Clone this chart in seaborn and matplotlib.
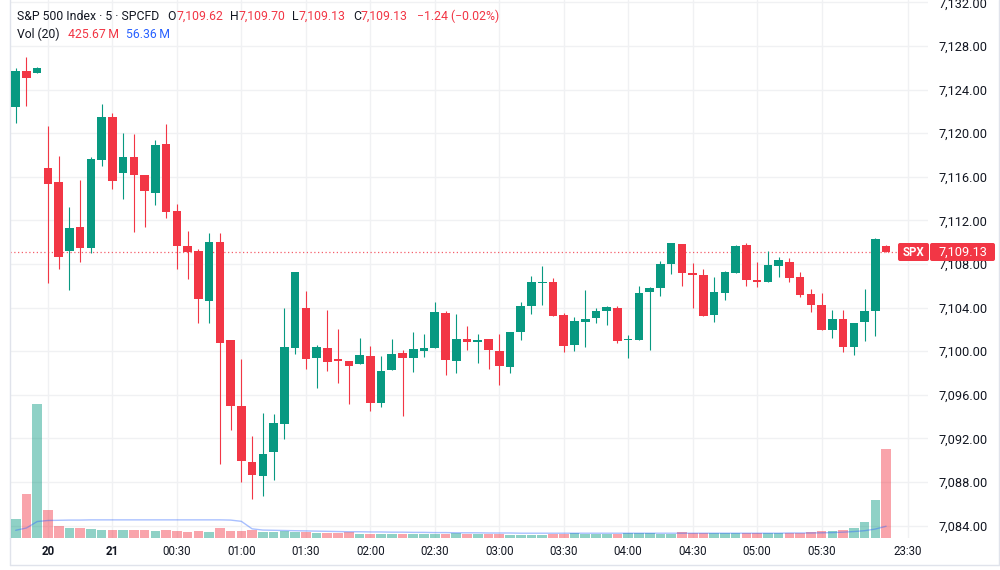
import numpy as np
import pandas as pd
import matplotlib
matplotlib.use("Agg")
import matplotlib.pyplot as plt
import matplotlib.transforms as mtransforms
from matplotlib.patches import FancyBboxPatch
from matplotlib.lines import Line2D
import seaborn as sns

# ── DATA (5 min SPX candles) ──────────────────────────────────────────────────
opens = [7122.38, 7125.73, 7125.55, 7116.78, 7115.52, 7109.19, 7111.42, 7109.47, 7117.54, 7121.51,
         7116.38, 7117.84, 7116.19, 7114.49, 7118.98, 7112.89, 7109.62, 7109.19, 7104.63, 7110.05,
         7101.03, 7094.94, 7089.86, 7088.58, 7090.72, 7093.32, 7100.27, 7103.96, 7099.40, 7100.27,
         7099.26, 7099.07, 7098.80, 7099.59, 7095.28, 7098.28, 7099.81, 7099.40, 7100.05, 7100.32,
         7103.50, 7099.10, 7101.09, 7100.82, 7101.09, 7100.05, 7098.58, 7101.76, 7104.15, 7106.26,
         7106.32, 7103.32, 7100.57, 7102.71, 7103.05, 7103.66, 7103.99, 7101.00, 7101.06, 7105.43,
         7105.80, 7108.00, 7109.86, 7107.15, 7106.99, 7103.29, 7105.37, 7107.15, 7109.74, 7106.56,
         7106.32, 7107.84, 7108.16, 7106.78, 7105.25, 7104.27, 7101.92, 7102.98, 7100.39, 7102.65,
         7103.69, 7109.62]
highs = [7125.95, 7127.02, 7126.10, 7120.66, 7117.90, 7113.20, 7115.70, 7117.79, 7122.65, 7121.83,
         7119.99, 7119.90, 7116.19, 7119.38, 7120.84, 7113.50, 7111.00, 7109.38, 7110.82, 7110.82,
         7101.03, 7099.31, 7092.22, 7094.33, 7094.24, 7103.94, 7107.29, 7105.52, 7100.57, 7103.78,
         7102.00, 7099.07, 7101.18, 7100.48, 7099.56, 7101.09, 7100.11, 7101.79, 7101.58, 7104.54,
         7103.69, 7103.44, 7102.31, 7101.58, 7101.09, 7101.58, 7101.76, 7104.49, 7106.93, 7107.79,
         7106.69, 7103.48, 7103.11, 7105.59, 7103.99, 7104.17, 7104.15, 7101.49, 7105.95, 7105.92,
         7108.25, 7109.93, 7109.86, 7108.06, 7107.51, 7106.78, 7107.39, 7109.74, 7109.95, 7108.16,
         7109.19, 7108.61, 7108.55, 7107.24, 7105.68, 7105.34, 7103.75, 7103.75, 7102.56, 7105.71,
         7110.36, 7109.70]
lows = [7120.91, 7122.52, 7125.50, 7106.28, 7107.51, 7105.60, 7108.18, 7108.98, 7116.99, 7114.91,
        7113.99, 7110.96, 7111.37, 7113.44, 7112.19, 7107.51, 7106.62, 7102.56, 7102.61, 7089.62,
        7092.77, 7088.03, 7086.41, 7086.72, 7088.18, 7091.92, 7099.72, 7098.39, 7096.62, 7098.21,
        7097.06, 7095.16, 7098.80, 7094.54, 7094.91, 7098.28, 7094.08, 7098.12, 7099.44, 7100.32,
        7097.84, 7098.03, 7100.11, 7098.89, 7098.34, 7096.87, 7097.97, 7101.03, 7103.39, 7104.24,
        7103.23, 7099.95, 7100.02, 7100.41, 7102.56, 7102.40, 7100.72, 7099.35, 7101.06, 7100.14,
        7105.04, 7107.08, 7105.98, 7103.99, 7103.23, 7102.71, 7104.70, 7107.15, 7106.01, 7105.86,
        7106.32, 7106.81, 7106.35, 7105.00, 7103.62, 7101.97, 7101.24, 7099.95, 7099.65, 7100.91,
        7101.42, 7109.13]
closes = [7125.73, 7125.06, 7126.00, 7115.34, 7108.67, 7111.28, 7109.44, 7117.63, 7121.51, 7115.64,
          7117.79, 7116.14, 7114.67, 7118.92, 7112.74, 7109.62, 7109.07, 7104.76, 7110.05, 7100.78,
          7094.97, 7089.95, 7088.64, 7090.57, 7093.39, 7100.41, 7107.29, 7099.28, 7100.36, 7099.04,
          7099.10, 7098.67, 7099.65, 7095.28, 7098.18, 7099.72, 7099.40, 7100.17, 7100.32, 7103.57,
          7099.17, 7101.09, 7100.82, 7101.00, 7100.14, 7098.67, 7101.76, 7104.15, 7106.38, 7106.35,
          7103.23, 7100.50, 7102.74, 7102.98, 7103.69, 7104.06, 7100.94, 7101.15, 7105.37, 7105.80,
          7108.03, 7109.93, 7107.15, 7106.96, 7103.23, 7105.40, 7107.24, 7109.68, 7106.56, 7106.35,
          7107.91, 7108.39, 7106.74, 7105.16, 7104.24, 7101.97, 7102.98, 7100.39, 7102.56, 7103.72,
          7110.29, 7109.13]
# volume in millions
volumes = [90, 213, 645, 136, 56, 47, 48, 42, 36, 38,
           36, 36, 38, 32, 36, 32, 29, 32, 27, 47,
           32, 32, 36, 27, 27, 32, 29, 27, 24, 23,
           23, 27, 21, 21, 21, 18, 21, 21, 18, 18,
           19, 23, 18, 18, 21, 19, 16, 16, 16, 16,
           19, 19, 23, 19, 19, 19, 18, 23, 23, 23,
           19, 19, 27, 23, 23, 23, 23, 23, 23, 25,
           25, 25, 23, 25, 29, 35, 35, 38, 47, 75,
           182, 425.67]
# Vol (20) moving average as drawn (millions)
vol_ma = [37, 48, 79, 84, 85, 86, 86, 87, 87, 87,
          87, 87, 87, 87, 87, 87, 87, 87, 87, 87,
          86, 80, 44, 38, 37, 36, 35, 34, 33, 32,
          31, 30, 30, 29, 29, 28, 28, 27, 27, 26,
          26, 25, 25, 25, 24, 24, 24, 23, 23, 23,
          23, 23, 23, 23, 23, 23, 23, 23, 23, 23,
          23, 23, 23, 23, 23, 23, 23, 23, 23, 23,
          23, 23, 24, 24, 24, 25, 26, 28, 31, 35,
          43, 56.36]

time_ticks  = [3, 9, 15, 21, 27, 33, 39, 45, 51, 57, 63, 69, 75, 83]
time_labels = ["20", "21", "00:30", "01:00", "01:30", "02:00", "02:30",
               "03:00", "03:30", "04:00", "04:30", "05:00", "05:30", "23:30"]
price_ticks = [7084, 7088, 7092, 7096, 7100, 7104, 7108, 7112, 7116, 7120, 7124, 7128, 7132]
last_price = 7109.13

# ── STYLE ─────────────────────────────────────────────────────────────────────
sns.set_theme(style="white")
plt.rcParams["font.family"] = ["Roboto", "DejaVu Sans"]

GREEN = "#089981"
RED   = "#F23645"
BLUE  = "#2962FF"
TEXT  = "#131722"
GRID  = "#F0F1F3"
FRAME = "#E0E3EB"

df = pd.DataFrame({"open": opens, "high": highs, "low": lows,
                   "close": closes, "vol": volumes, "vol_ma": vol_ma})
df["i"] = np.arange(len(df))
df["color"] = np.where(df["close"] >= df["open"], GREEN, RED)
df["body_lo"] = df[["open", "close"]].min(axis=1)
df["body_h"] = (df["close"] - df["open"]).abs().clip(lower=0.1)

W, H = 1000, 570
fig = plt.figure(figsize=(W / 100, H / 100), dpi=100)
fig.patch.set_facecolor("white")

# chart pane: x 10..928 px, y 0..538 px
ax = fig.add_axes([10 / W, 32 / H, 918 / W, 538 / H])
ax.set_zorder(1)
axv = ax.twinx()
axv.set_zorder(2)
axv.patch.set_visible(False)

# ── CANDLES ───────────────────────────────────────────────────────────────────
ax.vlines(df["i"], df["low"], df["high"], colors=df["color"], linewidth=0.8, zorder=3)
ax.bar(df["i"], df["body_h"], bottom=df["body_lo"], width=0.8,
       color=df["color"], linewidth=0, zorder=4)

ax.set_xlim(-0.53, 84.9)
ax.set_ylim(7082.86, 7132.22)

# price line
ax.axhline(last_price, xmin=0, xmax=(897 - 10) / 918, color=RED, lw=0.9,
           ls=(0, (1, 2)), alpha=0.8, zorder=2)

# axes / grid
ax.yaxis.tick_right()
ax.set_yticks(price_ticks)
ax.set_yticklabels([f"{v:,.2f}" for v in price_ticks])
ax.set_xticks(time_ticks)
ax.set_xticklabels(time_labels)
ax.tick_params(axis="y", length=0, pad=7.5, labelsize=9.2, labelcolor=TEXT)
ax.tick_params(axis="x", length=0, pad=5, labelsize=8.3, labelcolor=TEXT)
for lbl in ax.get_xticklabels()[:2]:
    lbl.set_fontweight("bold")
ax.grid(True, color=GRID, lw=1)
ax.set_axisbelow(True)
for s in ["top", "right", "bottom"]:
    ax.spines[s].set_visible(False)
ax.spines["left"].set_color(FRAME)
ax.spines["left"].set_linewidth(1)
ax.set_xlabel("")
ax.set_ylabel("")

# ── VOLUME ────────────────────────────────────────────────────────────────────
axv.bar(df["i"], df["vol"], width=0.9, color=df["color"], alpha=0.45, linewidth=0)
sns.lineplot(x=df["i"], y=df["vol_ma"], ax=axv, color=BLUE, alpha=0.4, lw=1)
axv.set_ylim(0, 2582)
axv.set_xlim(ax.get_xlim())
axv.set_yticks([])
axv.set_xlabel("")
axv.set_ylabel("")
for s in axv.spines.values():
    s.set_visible(False)

# ── OUTER FRAME ───────────────────────────────────────────────────────────────
px = mtransforms.IdentityTransform()
def fy(y):  # image px (from top) -> display px (from bottom)
    return H - y

fig.add_artist(Line2D([10, 10], [fy(538), fy(565)], transform=px, color=FRAME, lw=1))
fig.add_artist(Line2D([10, 999], [fy(565), fy(565)], transform=px, color=FRAME, lw=1))
fig.add_artist(Line2D([999, 999], [fy(0), fy(565)], transform=px, color=FRAME, lw=1))

# ── LAST PRICE LABELS ─────────────────────────────────────────────────────────
for x0, x1 in [(898, 929), (930, 995)]:
    fig.add_artist(FancyBboxPatch((x0, fy(261)), x1 - x0, 18,
                                  boxstyle="round,pad=0,rounding_size=2",
                                  transform=px, facecolor=RED, edgecolor="none", zorder=10))
fig.text(913.5 / W, 1 - 252 / H, "SPX", color="white", fontsize=8.3,
         fontweight="bold", ha="center", va="center", zorder=11)
fig.text(962.5 / W, 1 - 252 / H, f"{last_price:,.2f}", color="white", fontsize=9.2,
         ha="center", va="center", zorder=11)

# ── LEGEND TEXT (pieces chained left to right) ────────────────────────────────
row1 = [("S&P 500 Index · 5 · SPCFD", TEXT, 8), ("O", TEXT, 0), ("7,109.62", RED, 7),
        ("H", TEXT, 0), ("7,109.70", RED, 7), ("L", TEXT, 0), ("7,109.13", RED, 7),
        ("C", TEXT, 0), ("7,109.13", RED, 9), ("−1.24 (−0.02%)", RED, 0)]
row2 = [("Vol (20)", TEXT, 8), ("425.67\u2009M", RED, 7), ("56.36\u2009M", BLUE, 0)]

renderer = fig.canvas.get_renderer()
for y, row in [(16, row1), (34, row2)]:
    x = 17.3
    for txt, c, gap in row:
        t = fig.text(x / W, 1 - y / H, txt, color=c, fontsize=8.8, ha="left", va="center")
        x = t.get_window_extent(renderer=renderer).x1 + gap

fig.savefig("out.png", dpi=100)
